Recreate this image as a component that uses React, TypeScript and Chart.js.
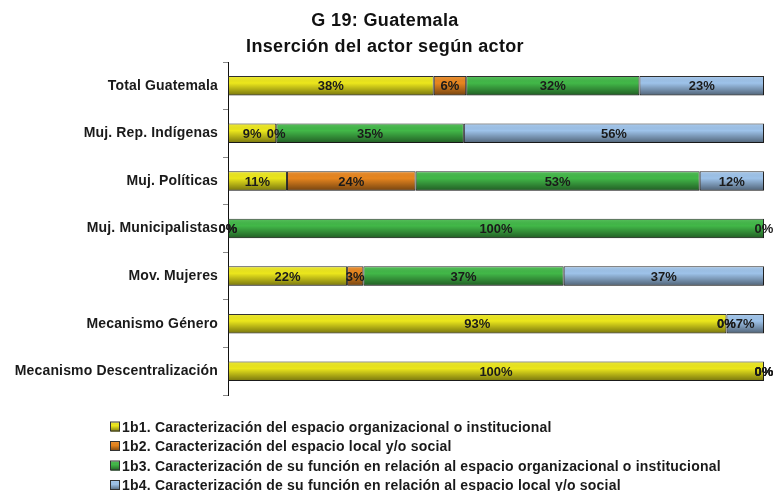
import React, { useEffect, useRef } from "react";
import { Chart, registerables } from "chart.js";

Chart.register(...registerables);

const categories = [
  "Total Guatemala",
  "Muj. Rep. Indígenas",
  "Muj. Políticas",
  "Muj. Municipalistas",
  "Mov. Mujeres",
  "Mecanismo Género",
  "Mecanismo Descentralización",
];

const seriesNames = [
  "1b1. Caracterización del espacio organizacional o institucional",
  "1b2. Caracterización del espacio local y/o social",
  "1b3. Caracterización de su función en relación al espacio organizacional o institucional",
  "1b4. Caracterización de su función en relación al espacio local y/o social",
];

const s1b1 = [38, 9, 11, 0, 22, 93, 100];
const s1b2 = [6, 0, 24, 0, 3, 0, 0];
const s1b3 = [32, 35, 53, 100, 37, 0, 0];
const s1b4 = [23, 56, 12, 0, 37, 7, 0];

const colors = ["#ece71c", "#e8861f", "#42b848", "#9ec3ea"];

const titleLines = ["G 19: Guatemala", "Inserción del actor según actor"];

const FONT = "'Liberation Sans', Arial, sans-serif";

export default function App() {
  const ref = useRef<HTMLCanvasElement | null>(null);

  useEffect(() => {
    document.body.style.margin = "0";
    const canvas = ref.current!;
    const raw = [s1b1, s1b2, s1b3, s1b4];
    const sums = categories.map((_, i) => raw.reduce((a, s) => a + s[i], 0));

    const shade = (ctx: CanvasRenderingContext2D, l: number, t: number, w: number, h: number) => {
      const g = ctx.createLinearGradient(0, t, 0, t + h);
      g.addColorStop(0, "rgba(255,255,255,0.12)");
      g.addColorStop(0.35, "rgba(0,0,0,0)");
      g.addColorStop(1, "rgba(0,0,0,0.48)");
      ctx.fillStyle = g;
      ctx.fillRect(l, t, w, h);
    };

    const overlay = {
      id: "overlay",
      beforeDraw(chart: any) {
        (chart.ctx as any).letterSpacing = "0.15px";
      },
      afterDatasetsDraw(chart: any) {
        const ctx = chart.ctx as CanvasRenderingContext2D;
        ctx.save();
        chart.data.datasets.forEach((_: any, di: number) => {
          const meta = chart.getDatasetMeta(di);
          meta.data.forEach((el: any) => {
            const p = el.getProps(["x", "y", "base", "height"], true);
            const l = Math.min(p.x, p.base);
            const w = Math.abs(p.x - p.base);
            const t = p.y - p.height / 2;
            if (w > 1) shade(ctx, l + 0.5, t + 0.5, w - 1, p.height - 1);
          });
        });
        (ctx as any).letterSpacing = "0px";
        ctx.fillStyle = "#1a1a1a";
        ctx.font = `bold 13px ${FONT}`;
        ctx.textAlign = "center";
        ctx.textBaseline = "middle";
        chart.data.datasets.forEach((_: any, di: number) => {
          const meta = chart.getDatasetMeta(di);
          meta.data.forEach((el: any, i: number) => {
            const p = el.getProps(["x", "y", "base"], true);
            ctx.fillText(raw[di][i] + "%", (p.x + p.base) / 2, p.y + 1);
          });
        });
        // title
        (ctx as any).letterSpacing = "0.35px";
        ctx.font = `bold 18px ${FONT}`;
        ctx.fillStyle = "#111";
        ctx.fillText(titleLines[0], 385, 21);
        ctx.fillText(titleLines[1], 385, 47);
        // legend
        (ctx as any).letterSpacing = "0.2px";
        ctx.textAlign = "left";
        ctx.font = `bold 14px ${FONT}`;
        seriesNames.forEach((name, k) => {
          const y = 427 + k * 19.5;
          ctx.fillStyle = colors[k];
          ctx.fillRect(111, y - 4.5, 9, 9);
          shade(ctx, 111, y - 4.5, 9, 9);
          ctx.strokeStyle = "#333";
          ctx.lineWidth = 1;
          ctx.strokeRect(110.5, y - 5, 9, 9);
          ctx.fillStyle = "#1a1a1a";
          ctx.fillText(name, 122, y + 1);
        });
        ctx.restore();
      },
    };

    const chart = new Chart(canvas, {
      type: "bar",
      data: {
        labels: categories,
        datasets: raw.map((s, k) => ({
          label: seriesNames[k],
          data: s.map((v, i) => (v / sums[i]) * 100),
          backgroundColor: colors[k],
          borderColor: "#222",
          borderWidth: 1,
          borderSkipped: false,
          categoryPercentage: 1,
          barPercentage: 0.41,
        })),
      },
      options: {
        indexAxis: "y",
        responsive: false,
        animation: false,
        layout: { padding: { top: 62, bottom: 96, right: 10, left: 0 } },
        plugins: {
          legend: { display: false },
          title: { display: false },
          tooltip: { enabled: false },
        },
        scales: {
          x: {
            stacked: true,
            display: false,
            min: 0,
            max: 100,
          },
          y: {
            stacked: true,
            border: { display: true, color: "#111", width: 1 },
            grid: {
              offset: true,
              drawOnChartArea: false,
              drawTicks: true,
              tickLength: 5,
              color: "#888",
            },
            ticks: {
              color: "#1a1a1a",
              font: { family: FONT, size: 14, weight: "bold" },
              padding: 5,
            },
            afterFit(scale: any) {
              scale.width = 228;
            },
          },
        },
      },
      plugins: [overlay],
    } as any);
    return () => chart.destroy();
  }, []);

  return <canvas ref={ref} width={774} height={491} style={{ display: "block" }} />;
}
